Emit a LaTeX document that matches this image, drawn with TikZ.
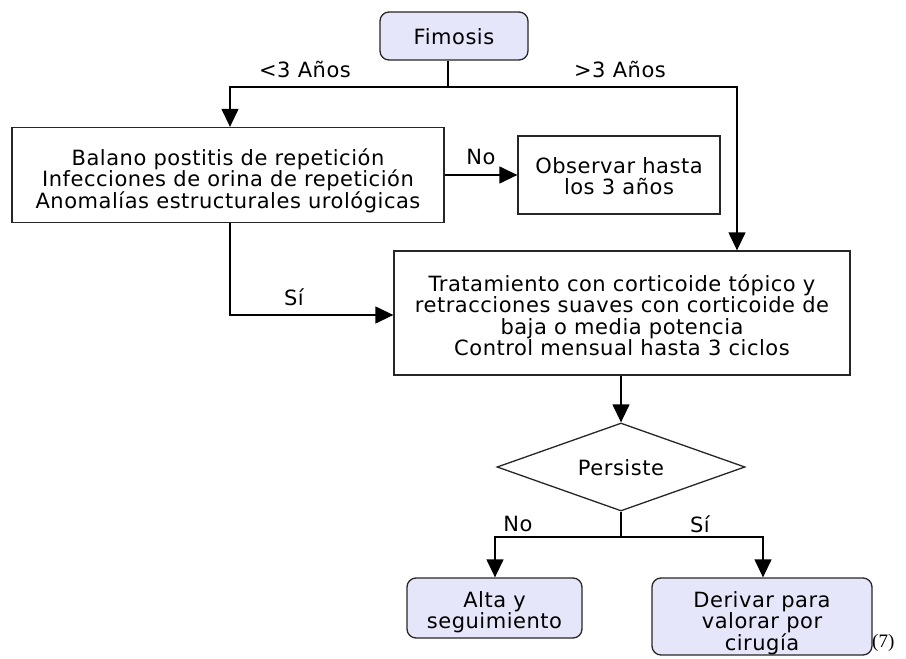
\documentclass[tikz,border=0pt]{standalone}
\usepackage{fontspec}
\setmainfont{DejaVu Sans}[LetterSpace=2.5]
\newfontfamily\refnum{Liberation Serif}
\usetikzlibrary{arrows.meta,shapes.geometric}
\newcommand\mytightlines{\fontsize{21}{21.5}\selectfont\lineskiplimit -20pt\relax}
\tikzset{
  flow/.style={draw=black!85, line width=1.3pt},
  roundbox/.style={flow, fill={rgb,255:red,230;green,230;blue,250}, rounded corners=9pt, align=center, inner sep=0pt},
  rectbox/.style={flow, fill=white, align=center, inner sep=0pt},
  decision/.style={flow, fill=white, diamond, aspect=2.8, inner sep=0pt},
  conn/.style={draw=black, line width=1.3pt, -{Triangle[length=18pt,width=17pt]}},
  line/.style={draw=black, line width=1.3pt},
  lbl/.style={font=\fontsize{21}{24}\selectfont},
  txt/.style={font=\mytightlines}
}
\begin{document}
\begin{tikzpicture}[x=1pt,y=-1pt]
\useasboundingbox (0,0) rectangle (906,659);
\node[roundbox, minimum width=148pt, minimum height=48pt] (fim) at (454,36) {};
\node[txt] (fimt) at (454,37) {Fimosis};
\node[rectbox, minimum width=432pt, minimum height=95pt] (bal) at (228,175) {};
\node[txt, align=center] (balt) at (228,180.5) {Balano postitis de repetición\\Infecciones de orina de repetición\\Anomalías estructurales urológicas};
\node[rectbox, minimum width=202pt, minimum height=78pt] (obs) at (619,175) {};
\node[txt, align=center] (obst) at (619,176) {Observar hasta\\los 3 años};
\node[rectbox, minimum width=456pt, minimum height=124pt] (tra) at (622,313) {};
\node[txt, align=center] (trat) at (622,315) {Tratamiento con corticoide tópico y\\retracciones suaves con corticoide de\\baja o media potencia\\Control mensual hasta 3 ciclos};
\node[decision, minimum width=248pt, minimum height=88pt] (per) at (621,467) {};
\node[txt] (pert) at (621,468) {Persiste};
\node[roundbox, minimum width=175pt, minimum height=60pt] (alt) at (494.5,608) {};
\node[txt, align=center] (altt) at (494.5,612) {Alta y\\seguimiento};
\node[roundbox, minimum width=220pt, minimum height=77pt] (der) at (762,616.5) {};
\node[txt, align=center] (dert) at (762,623) {Derivar para\\valorar por\\cirugía};
\node[font=\refnum\fontsize{19}{21}\selectfont, anchor=west, inner sep=0pt] (ref) at (872,643) {(7)};
% connectors
\coordinate (j1) at (448,87);
\draw[line] (fim.south -| j1) -- (j1);
\draw[conn] (j1) -- (230,87) -- (bal.north -| 230,0);
\draw[conn] (j1) -- (737,87) -- (tra.north -| 737,0);
\node[lbl] (l3) at (305,69) {<3 Años};
\node[lbl] (g3) at (620,69) {>3 Años};
\draw[conn] (bal.east |- 0,175) -- (obs.west |- 0,175);
\node[lbl] (no1) at (481,157) {No};
\draw[conn] (bal.south -| 230,0) -- (230,315) -- (tra.west |- 0,315);
\node[lbl] (si1) at (294,297) {Sí};
\draw[conn] (tra.south -| per.north) -- (per.north);
\coordinate (j2) at (621,537);
\draw[line] (per.south) -- (j2);
\draw[conn] (j2) -- (495,537) -- (alt.north -| 495,0);
\draw[conn] (j2) -- (763,537) -- (der.north -| 763,0);
\node[lbl] (no2) at (518,524) {No};
\node[lbl] (si2) at (700,524) {Sí};
\end{tikzpicture}
\end{document}
